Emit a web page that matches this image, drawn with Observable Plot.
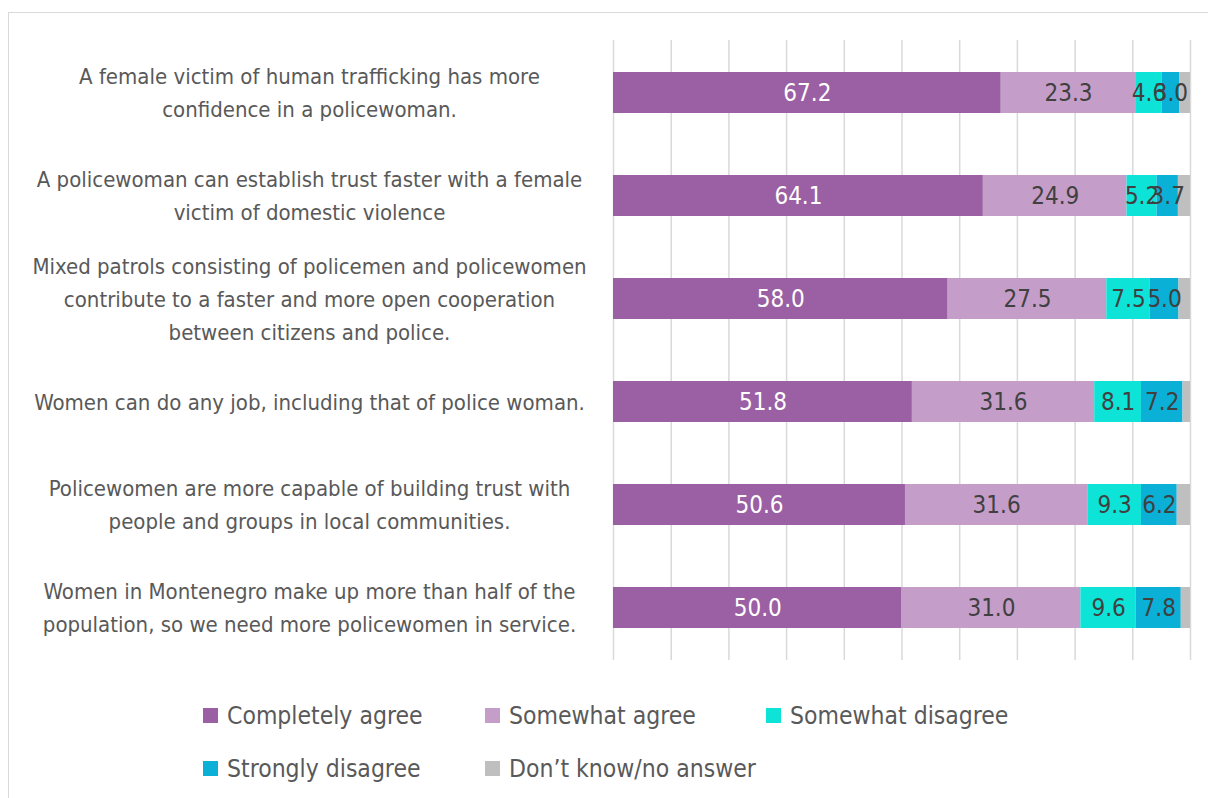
<!DOCTYPE html>
<html>
<head>
<meta charset="utf-8">
<script src="https://cdn.jsdelivr.net/npm/d3@7"></script>
<script src="https://cdn.jsdelivr.net/npm/@observablehq/plot@0.6"></script>
<style>
  html, body { margin: 0; padding: 0; background: #fff; width: 1208px; height: 798px; overflow: hidden; }
  #frame { position: absolute; left: 8px; top: 12px; width: 1300px; height: 900px; border: 1px solid #d9d9d9; box-sizing: border-box; }
  #chart { position: absolute; left: 0; top: 0; }
  .leg { position: absolute; font-family: "DejaVu Sans Condensed", "Liberation Sans Narrow", sans-serif; font-size: 24.5px; color: #595959; line-height: 30px; white-space: nowrap; }
  .leg span.sw { display: inline-block; width: 15px; height: 15px; margin-right: 9px; vertical-align: 1px; }
</style>
</head>
<body>
<div id="frame"></div>
<div id="chart"></div>
<div id="legend"></div>
<script>
const categories = [
  "A female victim of human trafficking has more\nconfidence in a policewoman.",
  "A policewoman can establish trust faster with a female\nvictim of domestic violence",
  "Mixed patrols consisting of policemen and policewomen\ncontribute to a faster and more open cooperation\nbetween citizens and police.",
  "Women can do any job, including that of police woman.",
  "Policewomen are more capable of building trust with\npeople and groups in local communities.",
  "Women in Montenegro make up more than half of the\npopulation, so we need more policewomen in service."
];
const series = ["Completely agree", "Somewhat agree", "Somewhat disagree", "Strongly disagree", "Don\u2019t know/no answer"];
const completelyAgree = [67.2, 64.1, 58.0, 51.8, 50.6, 50.0];
const somewhatAgree   = [23.3, 24.9, 27.5, 31.6, 31.6, 31.0];
const somewhatDisagree= [4.6, 5.2, 7.5, 8.1, 9.3, 9.6];
const stronglyDisagree= [3.0, 3.7, 5.0, 7.2, 6.2, 7.8];
const dontKnow        = [1.9, 2.1, 2.0, 1.3, 2.3, 1.6];
const colors = ["#9b5fa3", "#c49ec8", "#0de3d6", "#0ab0d6", "#bfbfbf"];
const xTicks = [0, 10, 20, 30, 40, 50, 60, 70, 80, 90, 100];

const cols = [completelyAgree, somewhatAgree, somewhatDisagree, stronglyDisagree, dontKnow];
const data = [];
categories.forEach((q, i) => {
  series.forEach((s, j) => {
    data.push({q, s, si: j, value: cols[j][i]});
  });
});

const font = '"DejaVu Sans Condensed", "Liberation Sans Narrow", sans-serif';

const chart = Plot.plot({
  width: 1208,
  height: 680,
  marginLeft: 613,
  marginRight: 18,
  marginTop: 40,
  marginBottom: 20,
  style: {fontFamily: font, background: "transparent"},
  x: {domain: [0, 100], axis: null},
  y: {domain: categories, axis: null, paddingInner: 0.6, paddingOuter: 0.3},
  color: {domain: series, range: colors},
  marks: [
    Plot.ruleX(xTicks, {stroke: "#d9d9d9", strokeWidth: 1.5}),
    Plot.barX(data, Plot.stackX({x: "value", y: "q", fill: "s", z: "s"})),
    Plot.text(data.filter(d => d.si < 4), Plot.stackX({
      x: "value", y: "q", z: "s",
      text: d => d.value.toFixed(1),
      fill: d => d.si === 0 ? "#ffffff" : "#404040",
      fontSize: 24
    })),
    Plot.text(categories, {
      y: d => d, text: d => d, frameAnchor: "left", dx: -304, dy: -3, textAnchor: "middle",
      fontSize: 22, lineHeight: 1.5, fill: "#595959"
    })
  ]
});
document.getElementById("chart").appendChild(chart);

const legendPos = [
  [203, 701], [485, 701], [766, 701],
  [203, 754], [485, 754]
];
const leg = document.getElementById("legend");
series.forEach((s, j) => {
  const d = document.createElement("div");
  d.className = "leg";
  d.style.left = legendPos[j][0] + "px";
  d.style.top = legendPos[j][1] + "px";
  d.innerHTML = `<span class="sw" style="background:${colors[j]}"></span>${s}`;
  leg.appendChild(d);
});
</script>
</body>
</html>
